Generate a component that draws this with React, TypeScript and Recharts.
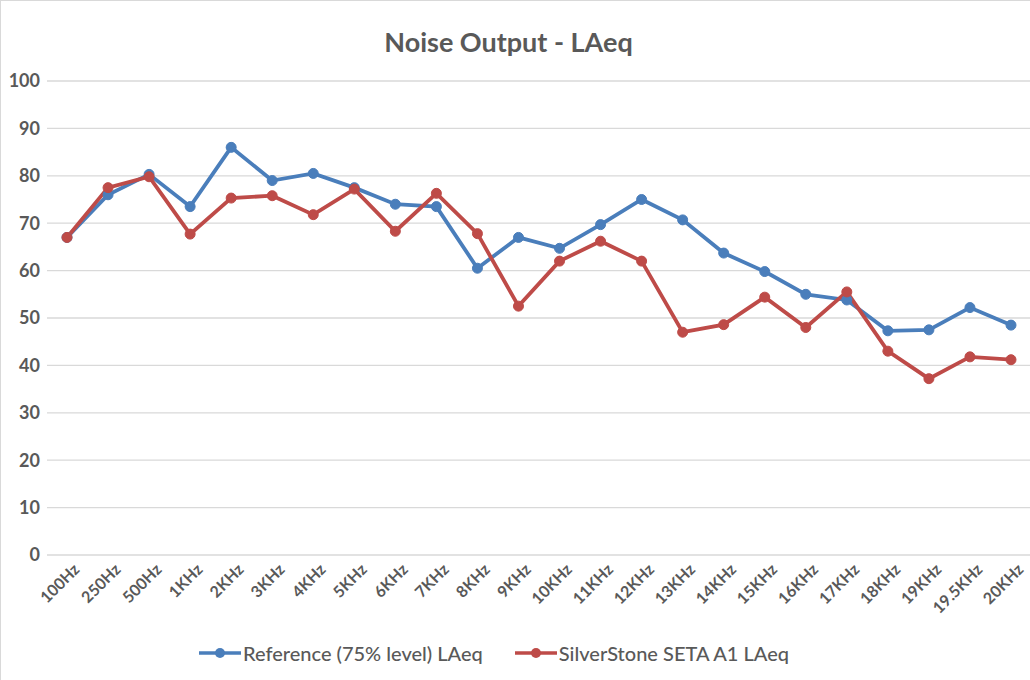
import { LineChart, Line, XAxis, YAxis, CartesianGrid, Legend } from "recharts";

const categories = [
    "100Hz", "250Hz", "500Hz", "1KHz", "2KHz", "3KHz", "4KHz", "5KHz", "6KHz", "7KHz", "8KHz", "9KHz",
    "10KHz", "11KHz", "12KHz", "13KHz", "14KHz", "15KHz", "16KHz", "17KHz", "18KHz", "19KHz", "19.5KHz", "20KHz",
];
const referenceValues = [
    67, 76, 80.3, 73.5, 86, 79, 80.5, 77.5, 74, 73.5, 60.5, 67,
    64.7, 69.7, 75, 70.7, 63.7, 59.8, 55, 53.8, 47.3, 47.5, 52.2, 48.5,
];
const silverstoneValues = [
    67, 77.5, 79.8, 67.7, 75.3, 75.8, 71.8, 77.2, 68.3, 76.3, 67.8, 52.5,
    62, 66.2, 62, 47, 48.6, 54.4, 48, 55.5, 43, 37.2, 41.8, 41.2,
];
const yTicks = [0, 10, 20, 30, 40, 50, 60, 70, 80, 90, 100];

const data = categories.map((name, i) => ({
    name,
    reference: referenceValues[i],
    silverstone: silverstoneValues[i],
}));

const BLUE = "#4a7ebb";
const RED = "#be4b48";
const TEXT = "#595959";
const FONT = "Lato, 'Open Sans', sans-serif";

const XTick = ({ x, y, payload }: any) => (
    <g transform={`translate(${x + 10},${y + 4})`}>
        <text textAnchor="end" transform="rotate(-45)" fill={TEXT} fontSize={16} fontWeight={700} fontFamily={FONT} dy={5}>
            {payload.value}
        </text>
    </g>
);

const LegendContent = () => {
    const items = [
        { label: "Reference (75% level) LAeq", color: BLUE },
        { label: "SilverStone SETA A1 LAeq", color: RED },
    ];
    return (
        <div style={{ display: "flex", justifyContent: "center", gap: 32, height: 40, alignItems: "flex-start", paddingRight: 44 }}>
            {items.map(item => (
                <div key={item.label} style={{ display: "flex", alignItems: "center" }}>
                    <svg width={42} height={12}>
                        <line x1={0} y1={6} x2={42} y2={6} stroke={item.color} strokeWidth={3.5} />
                        <circle cx={21} cy={6} r={5} fill={item.color} />
                    </svg>
                    <span style={{ color: TEXT, fontSize: 20, fontFamily: FONT, marginLeft: 2, fontWeight: 500 }}>{item.label}</span>
                </div>
            ))}
        </div>
    );
};

const App = () => {
    return (
        <div style={{ position: "absolute", left: 0, top: 0, width: 1030, height: 680, background: "#fff", boxSizing: "border-box", borderLeft: "1px solid #d9d9d9", borderTop: "1px solid #d9d9d9" }}>
            <div style={{ position: "absolute", top: 24, width: "100%", textAlign: "center", fontFamily: FONT, fontWeight: 700, fontSize: 27, color: TEXT, paddingRight: 14, boxSizing: "border-box" }}>
                Noise Output - LAeq
            </div>
            <LineChart width={1030} height={680} data={data} margin={{ top: 80, right: 0, bottom: 0, left: 0 }}>
                <CartesianGrid vertical={false} stroke="#d9d9d9" strokeWidth={1.3} />
                <XAxis
                    dataKey="name"
                    interval={0}
                    axisLine={false}
                    tickLine={false}
                    height={86}
                    padding={{ left: 20, right: 20 }}
                    tick={<XTick />}
                />
                <YAxis
                    domain={[0, 100]}
                    ticks={yTicks}
                    width={46}
                    axisLine={false}
                    tickLine={false}
                    tick={{ fill: TEXT, fontSize: 18, fontWeight: 700, fontFamily: FONT }}
                    tickMargin={1}
                />
                <Legend verticalAlign="bottom" content={<LegendContent />} />
                <Line
                    dataKey="reference"
                    stroke={BLUE}
                    strokeWidth={3.8}
                    dot={{ r: 5, fill: BLUE, stroke: BLUE, strokeWidth: 1 }}
                    isAnimationActive={false}
                />
                <Line
                    dataKey="silverstone"
                    stroke={RED}
                    strokeWidth={3.8}
                    dot={{ r: 5, fill: RED, stroke: RED, strokeWidth: 1 }}
                    isAnimationActive={false}
                />
            </LineChart>
        </div>
    );
};

export default App;
